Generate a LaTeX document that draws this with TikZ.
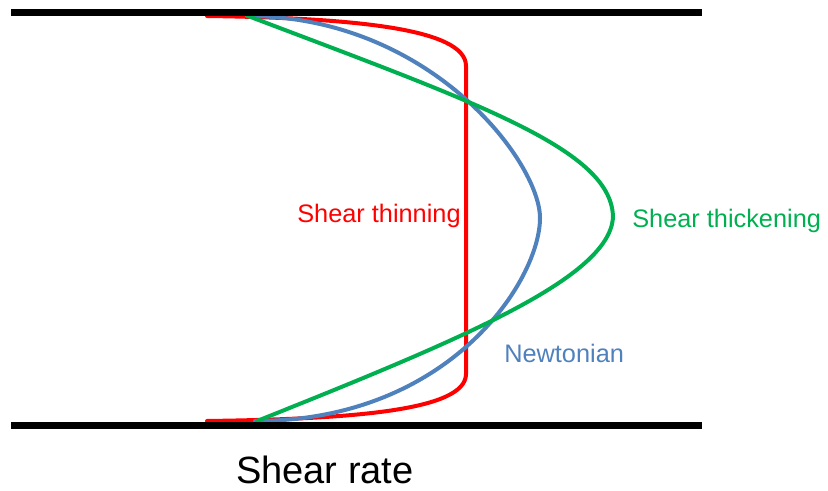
\documentclass[tikz,border=0pt]{standalone}
\usepackage{fontspec}
\setmainfont{Liberation Sans}
\usepackage{tikz}
\usetikzlibrary{positioning}
\definecolor{thinred}{RGB}{255,0,0}
\definecolor{newtblue}{RGB}{79,129,189}
\definecolor{thickgreen}{RGB}{0,176,80}

\begin{document}
\begin{tikzpicture}[x=0.75pt, y=-0.75pt,
    wall/.style={line width=5.25pt, black},
    profile/.style={line width=3pt, line cap=round},
    lbl/.style={font=\fontsize{19}{22}\selectfont, inner sep=0pt, anchor=base west}
]
    \useasboundingbox (0,0) rectangle (828,491);

    % channel walls
    \coordinate (topL) at (11,12.5);
    \coordinate (topR) at (702,12.5);
    \coordinate (botL) at (11,425.5);
    \coordinate (botR) at (702,425.5);

    % velocity profiles
    \draw[profile, thinred] (207,16) .. controls (350,18) and (466,28) .. (466,66)
        -- (466,374) .. controls (466,411) and (350,419) .. (207,421);
    \draw[profile, newtblue] (247,16) .. controls (430,16) and (540,162) .. (540,218)
        .. controls (540,280) and (450,421) .. (255,421);
    \draw[profile, thickgreen] (248,16) .. controls (480,104) and (613,150) .. (613,218)
        .. controls (608,278) and (465,338) .. (257,421);

    \draw[wall] (topL) -- (topR);
    \draw[wall] (botL) -- (botR);

    \node[lbl, thinred] (thinning) at (297,223) {Shear thinning};
    \node[lbl, thickgreen] (thickening) at (632,228) {Shear thickening};
    \node[lbl, newtblue] (newtonian) at (504,363) {Newtonian};
    \node[lbl, font=\fontsize{28.5}{34}\selectfont] (shearrate) at (236,483) {Shear rate};
\end{tikzpicture}
\end{document}
